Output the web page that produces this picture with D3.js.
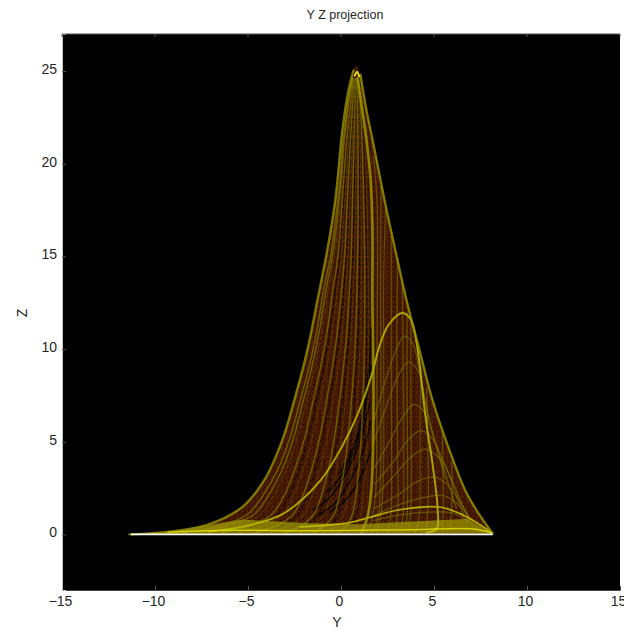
<!DOCTYPE html>
<html><head><meta charset="utf-8">
<script src="https://cdn.jsdelivr.net/npm/d3@7/dist/d3.min.js"></script>
<style>html,body{margin:0;background:#fff;overflow:hidden}svg{display:block}text{font-family:"Liberation Sans",Arial,sans-serif;fill:#262626}</style>
</head><body><svg id="c" width="624" height="630"></svg>
<script>
const yTicks=[-15,-10,-5,0,5,10,15];
const zTicks=[0,5,10,15,20,25];
const leftEnvelope=[[-11.37,0],[-9.22,.15],[-7.23,.5],[-5.3,1.48],[-4.11,2.95],[-3.15,5.1],[-2.5,7.27],[-1.8,9.97],[-1.26,12.67],[-.73,15.37],[-.3,18.07],[.08,21.85],[.4,23.95],[.67,25.03],[.83,25.33]];
const rightEnvelope=[[.83,25.33],[1.05,24.8],[1.32,23.15],[1.8,20.77],[2.45,17.5],[2.98,15.08],[3.52,12.65],[4.22,9.95],[4.92,7.25],[5.83,4.55],[6.75,2.23],[7.45,1.05],[8.15,.05]];
const peakGlow=[[.74,24.75],[.86,24.95],[.98,24.7]];
const fanZ=[24.6,23.1,21.1,19.1,17.1,15.1,13.1,11.1,9.1,7.2,5.2,3.6,2.1,1.1,.5,.1];
const fanA=[.6,.35,.1,-.05,-.28,-.55,-.95,-1.28,-1.7,-2.2,-2.75,-3.35,-4.2,-5,-6.4,-8.5];
const fanA2=[.61,.38,.15,0,-.2,-.45,-.82,-1.14,-1.55,-2.03,-2.55,-3.12,-3.9,-4.65,-6,-7.9];
const fanB=[.62,.4,.18,.05,-.12,-.35,-.7,-1,-1.4,-1.85,-2.35,-2.9,-3.6,-4.3,-5.6,-7.4];
const fanC=[.65,.5,.3,.15,0,-.15,-.45,-.72,-1.08,-1.5,-1.95,-2.45,-3.05,-3.7,-4.8,-6.4];
const fanD=[.68,.55,.4,.28,.15,.02,-.2,-.45,-.75,-1.12,-1.55,-2,-2.55,-3.1,-4.1,-5.5];
const fanE=[.7,.62,.5,.4,.3,.2,.02,-.18,-.45,-.78,-1.15,-1.55,-2.05,-2.55,-3.4,-4.6];
const fanF=[.75,.68,.6,.52,.45,.38,.24,.08,-.15,-.42,-.75,-1.1,-1.55,-2,-2.75,-3.8];
const fanG=[.78,.75,.7,.65,.6,.55,.45,.33,.14,-.08,-.36,-.66,-1.05,-1.45,-2.1,-3];
const fanH=[.82,.82,.8,.78,.76,.72,.65,.56,.42,.24,.02,-.22,-.55,-.9,-1.45,-2.2];
const fanI=[.85,.9,.92,.92,.92,.9,.86,.8,.7,.56,.38,.18,-.08,-.36,-.85,-1.5];
const fanJ=[.88,.98,1.02,1.05,1.08,1.08,1.07,1.04,.98,.88,.74,.58,.38,.14,-.25,-.8];
const fanK=[.9,1.05,1.14,1.2,1.24,1.27,1.28,1.27,1.24,1.18,1.08,.96,.8,.62,.32,-.1];
const fanL=[.92,1.12,1.28,1.35,1.42,1.46,1.48,1.49,1.48,1.45,1.4,1.32,1.2,1.07,.85,.55];
const fansBright=[fanA,fanA2,fanC,fanE,fanG,fanI,fanK];
const fansDim=[fanB,fanD,fanF,fanH,fanJ,fanL];
const darkA=[.72,.66,.56,.46,.38,.3,.14,-.06,-.32,-.62,-.98,-1.35,-1.82,-2.3,-3.1,-4.2];
const darkB=[.8,.78,.75,.72,.68,.64,.55,.45,.28,.08,-.18,-.46,-.82,-1.2,-1.8,-2.6];
const darkC=[.86,.94,.98,1,1.02,1,.97,.92,.84,.72,.56,.38,.15,-.12,-.55,-1.15];
const darkD=[.9,1.08,1.2,1.28,1.33,1.36,1.38,1.38,1.36,1.31,1.24,1.14,1,.84,.58,.22];
const darkE=[.66,.52,.35,.2,.07,-.07,-.33,-.58,-.92,-1.32,-1.75,-2.22,-2.8,-3.4,-4.45,-5.95];
const fansDark=[darkA,darkB,darkC,darkD,darkE];
const blackStreaks=[
 [[1.55,7.1],[1.2,5.7],[.7,4.2],[.1,3],[-.6,2],[-1.5,1.3]],
 [[1.6,6.1],[1.25,4.7],[.75,3.4],[.2,2.4],[-.4,1.6],[-1.2,1.05]],
 [[1.6,9.1],[1.35,7.1],[1,5.5],[.55,4.2],[0,3.15],[-.7,2.3]],
 [[1.62,4.6],[1.2,3.4],[.7,2.45],[.1,1.7],[-.6,1.2]],
 [[1.62,11.1],[1.5,8.9],[1.25,7.1],[.9,5.4],[.4,4.1],[-.1,3.3]]];
const verticalBright=[[.9,24.6],[1.1,23.2],[1.37,21.3],[1.59,19.15],[1.69,16.45],[1.69,12.67],[1.75,7.27],[1.64,2.56],[1.42,.93],[1.1,.1]];
const humpLarge=[[-7.1,.15],[-4.9,.5],[-3.1,1.12],[-1.1,2.92],[.1,4.82],[.9,6.5],[1.65,8.6],[2.05,10.1],[2.55,11.3],[3.3,11.95],[3.75,11.6],[4.07,10.3],[4.55,6.3],[4.95,3.6],[5.2,1.3],[5.15,.3],[4.6,.1]];
const humpLow=[[-2.2,.4],[.4,.62],[1.55,.92],[3.15,1.33],[5.3,1.48],[6.4,1.12],[7.3,.63],[8.1,.1]];
const rightDrops=[
 [[1.75,20.4],[1.95,17.6],[1.95,12.1],[1.92,6.1],[1.85,2.1],[1.6,.6],[1.3,.1]],
 [[2.15,18.8],[2.12,14],[2.14,8],[2.12,3],[2,1],[1.7,.1]],
 [[2.4,17.6],[2.3,14.1],[2.3,8.1],[2.28,3.1],[2.15,1.1],[1.9,.1]],
 [[2.7,16.1],[2.7,10.1],[2.72,4.1],[2.68,1.1],[2.5,.1]],
 [[3.05,14.9],[3,10.1],[3.05,4.1],[3.05,1.1],[2.85,.1]],
 [[3.3,13.7],[3.35,9.1],[3.38,4.1],[3.35,1.1],[3.2,.1]],
 [[3.55,12],[3.55,8],[3.58,4],[3.55,1],[3.4,.1]],
 [[3.75,11.4],[3.75,7.1],[3.78,3.1],[3.72,.9],[3.6,.1]],
 [[4.3,9],[4.25,6],[4.25,3.1],[4.2,.9],[4,.1]],
 [[4.6,7.9],[4.68,4.5],[4.7,2],[4.6,.4]],
 [[5.45,5.6],[5.5,3],[5.5,1],[5.4,.3]],
 [[5.95,3.9],[5.98,2],[5.85,.3]]];
const rightArcs=[
 [[1.8,2],[2.8,3.1],[3.8,4.2],[4.5,4.6],[5.2,4.2],[5.8,3.3],[6.4,1.9],[6.9,.8]],
 [[1.8,2.7],[2.8,3.9],[3.6,5.1],[4.3,5.6],[4.9,5.2],[5.4,4.2],[6,2.7],[6.6,1]],
 [[1.8,3.6],[2.6,5],[3.3,6.3],[3.9,7],[4.4,6.7],[4.9,5.5],[5.5,3.6],[6.2,1.4]],
 [[1.8,1.4],[3,2.1],[4.2,2.9],[5,3.1],[5.7,2.7],[6.3,1.9],[6.9,.9]],
 [[1.75,1],[3.1,1.6],[4.5,2],[5.5,2.1],[6.3,1.6],[7,.8]],
 [[1.75,5],[2.4,6.8],[3,8.4],[3.6,9.3],[4.1,8.9],[4.5,7.3],[5,5.2],[5.6,3]],
 [[1.75,6.1],[2.3,8],[2.9,9.8],[3.4,10.7],[3.85,10.3],[4.2,8.9],[4.7,6.2]],
 [[1.75,.75],[3.2,1.05],[4.8,1.2],[6,1.15],[6.9,.7]]];
const bottomBand=[[-11.3,.02],[-9,.15],[-7.2,.5],[-5.3,.8],[-2,.62],[1,.55],[3,.65],[5,.75],[6.8,.85],[8.15,.05],[-11.3,.02]];
const bottomGlow=[[-9.3,.12],[-6,.22],[-2,.2],[1,.22],[4,.25],[7,.3],[8.1,.08]];
const baseline=[[-11.3,0],[8.15,0]];

const L=62,R=620,T=34,B=590;
const x=d3.scaleLinear().domain([-15,15]).range([L,R]);
const y=d3.scaleLinear().domain([-3,27]).range([B,T]);
const svg=d3.select('#c');
const defs=svg.append('defs');
defs.append('clipPath').attr('id','pc').append('rect').attr('x',L).attr('y',T).attr('width',R-L).attr('height',B-T);
const pat=defs.append('pattern').attr('id','mot').attr('patternUnits','userSpaceOnUse').attr('width',5).attr('height',5);
pat.append('rect').attr('width',5).attr('height',5).attr('fill','#471a00');
[[0,0,'#260d00'],[2,1,'#5e2b00'],[4,2,'#2a0e00'],[1,3,'#552500'],[3,4,'#1e0900']].forEach(p=>pat.append('rect').attr('x',p[0]).attr('y',p[1]).attr('width',1).attr('height',1).attr('fill',p[2]));
svg.append('rect').attr('x',L).attr('y',T).attr('width',R-L).attr('height',B-T).attr('fill','#000');
const g=svg.append('g').attr('clip-path','url(#pc)');
const lineS=d3.line().x(d=>x(d[0])).y(d=>y(d[1])).curve(d3.curveCatmullRom.alpha(.5));
const lineP=d3.line().x(d=>x(d[0])).y(d=>y(d[1]));
const poly=leftEnvelope.concat(rightEnvelope);
g.append('path').attr('d',lineS(poly)+'Z').attr('fill','url(#mot)');
const strokes=(data,col,w,op,dash)=>g.append('g').selectAll('path').data(data).join('path').attr('d',lineS).attr('fill','none').attr('stroke',col).attr('stroke-width',w).attr('stroke-opacity',op).attr('stroke-linecap','round').attr('stroke-dasharray',dash||null);
const withZ=a=>a.map(f=>f.map((v,i)=>[v,fanZ[i]]));
strokes(withZ(fansDark),'#0c0400',1.2,.75,'7 3');
strokes(blackStreaks,'#000',1.6,.85);
strokes(withZ(fansDim),'#7a7000',.9,.42,'5 2');
strokes(withZ(fansBright),'#878200',1.5,.62);
strokes(rightDrops,'#878400',1.2,.5);
strokes(rightArcs,'#878400',1.2,.52);
g.append('path').attr('d',lineP(bottomBand)).attr('fill','#a4a200').attr('fill-opacity',.68);
strokes([humpLow],'#c4c400',1.7,.85);
strokes([humpLarge],'#b8b800',1.9,.88);
strokes([verticalBright],'#a4a400',2.6,.75);
strokes([leftEnvelope.slice(0,-1)],'#979300',2.4,.8);
strokes([rightEnvelope.slice(1)],'#9c9800',2.3,.8);
strokes([peakGlow],'#f0f030',1.8,.95);
strokes([bottomGlow],'#e6e600',1.5,.8);
g.append('path').datum(baseline).attr('d',lineP).attr('fill','none').attr('stroke','#fff').attr('stroke-width',1.6);

const ax=svg.append('g');
const xa=d3.axisBottom(x).tickValues(yTicks).tickSize(-4).tickPadding(6).tickFormat(d3.format('d'));
const ya=d3.axisLeft(y).tickValues(zTicks).tickSize(-4).tickPadding(5).tickFormat(d3.format('d'));
const xg=ax.append('g').attr('transform',`translate(0,${B})`).call(xa);
const yg=ax.append('g').attr('transform',`translate(${L},0)`).call(ya);
[xg,yg].forEach(s=>{s.selectAll('line').attr('stroke','#555');s.selectAll('text').attr('font-size',14).attr('font-family','"Liberation Sans"').attr('fill','#262626');});
xg.select('.domain').attr('stroke','#444');
yg.select('.domain').attr('stroke','#c4c4c4');
xg.selectAll('text').attr('dx',-2);
yg.selectAll('text').attr('dy','0.32em').attr('y',-2);
svg.append('line').attr('x1',L).attr('x2',R).attr('y1',T).attr('y2',T).attr('stroke','#555');
svg.append('g').selectAll('line').data(yTicks).join('line').attr('x1',d=>x(d)).attr('x2',d=>x(d)).attr('y1',T).attr('y2',T+3).attr('stroke','#555');
svg.append('text').attr('x',345).attr('y',19).attr('text-anchor','middle').attr('font-size',12.5).text('Y Z projection');
svg.append('text').attr('x',337).attr('y',627).attr('text-anchor','middle').attr('font-size',14).text('Y');
svg.append('text').attr('transform','translate(27,313) rotate(-90)').attr('text-anchor','middle').attr('font-size',14).text('Z');
</script></body></html>
